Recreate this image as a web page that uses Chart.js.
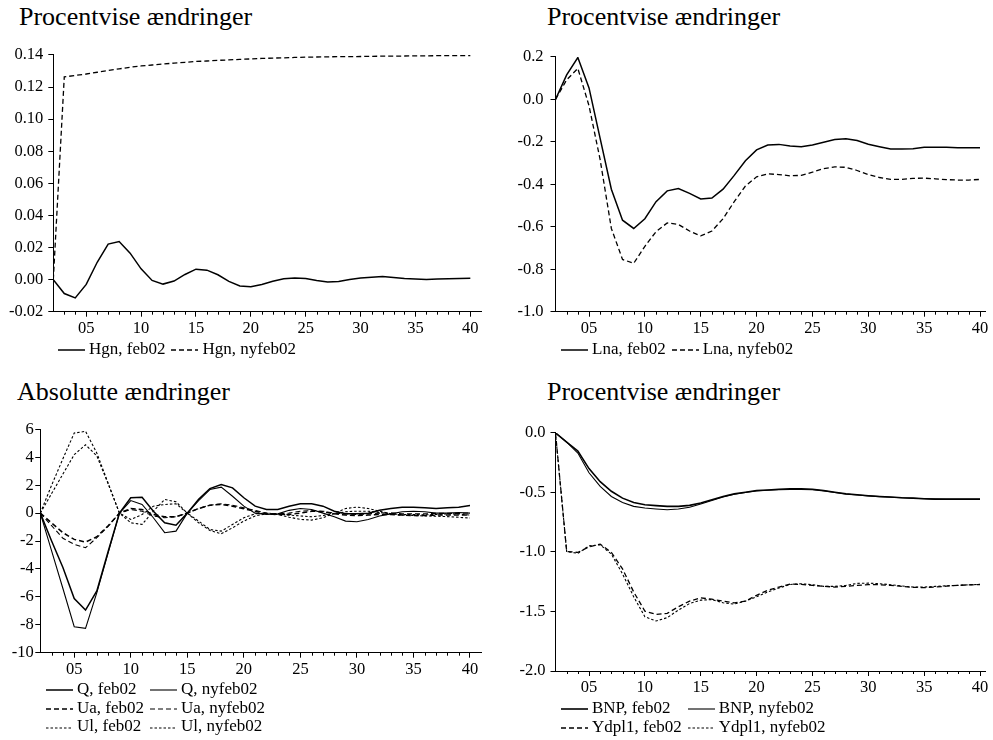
<!DOCTYPE html>
<html lang="da">
<head>
<meta charset="utf-8">
<title>Procentvise ændringer</title>
<script src="https://cdn.jsdelivr.net/npm/chart.js@4.4.1/dist/chart.umd.min.js"></script>
<style>
  body { margin: 0; background: #fff; width: 993px; height: 740px; position: relative; overflow: hidden;
         font-family: "Liberation Serif", "Times New Roman", serif; color: #000; }
  canvas { position: absolute; }
  .title { position: absolute; font-size: 26px; line-height: 26px; white-space: nowrap; }
  .legend { position: absolute; display: grid; grid-template-columns: auto auto; justify-content: start;
            column-gap: 6px; font-size: 17px; line-height: 18.7px; z-index: 2; }
  .legend-item { display: flex; align-items: center; white-space: nowrap; }
  .legend-item svg { margin-right: 4px; }
</style>
</head>
<body>
<div class="title" style="left:19px; top:4px;">Procentvise ændringer</div>
<div class="title" style="left:547px; top:4px;">Procentvise ændringer</div>
<div class="title" style="left:17px; top:379px;">Absolutte ændringer</div>
<div class="title" style="left:547px; top:379px;">Procentvise ændringer</div>

<canvas id="chart-hgn"></canvas>
<canvas id="chart-lna"></canvas>
<canvas id="chart-abs"></canvas>
<canvas id="chart-bnp"></canvas>

<div class="legend" id="legend-hgn" style="left:58px; top:340px;"></div>
<div class="legend" id="legend-lna" style="left:561px; top:340px;"></div>
<div class="legend" id="legend-abs" style="left:46px; top:680px;"></div>
<div class="legend" id="legend-bnp" style="left:561px; top:699px;"></div>

<script>
'use strict';

// ******** DATA **************
let years = [2002, 2003, 2004, 2005, 2006, 2007, 2008, 2009, 2010, 2011,
  2012, 2013, 2014, 2015, 2016, 2017, 2018, 2019, 2020, 2021,
  2022, 2023, 2024, 2025, 2026, 2027, 2028, 2029, 2030, 2031,
  2032, 2033, 2034, 2035, 2036, 2037, 2038, 2039, 2040];
let tickYears = [2005, 2010, 2015, 2020, 2025, 2030, 2035, 2040];

// top left: Hgn
let hgnTicks = [-0.02, 0.00, 0.02, 0.04, 0.06, 0.08, 0.10, 0.12, 0.14];
let hgnFeb02 = [0.0000, -0.0087, -0.0114, -0.0030, 0.0108, 0.0221, 0.0237, 0.0165, 0.0067, -0.0005,
  -0.0028, -0.0009, 0.0032, 0.0065, 0.0059, 0.0030, -0.0011, -0.0040, -0.0044, -0.0030,
  -0.0010, 0.0005, 0.0010, 0.0007, -0.0005, -0.0015, -0.0012, 0.0000, 0.0010, 0.0015,
  0.0019, 0.0013, 0.0007, 0.0003, 0.0000, 0.0003, 0.0005, 0.0007, 0.0009];
let hgnNyfeb02 = [0.0000, 0.1263, 0.1272, 0.1281, 0.1292, 0.1303, 0.1313, 0.1323, 0.1331, 0.1337,
  0.1343, 0.1349, 0.1354, 0.1359, 0.1362, 0.1366, 0.1369, 0.1372, 0.1375, 0.1378,
  0.1380, 0.1382, 0.1384, 0.1386, 0.1387, 0.1388, 0.1389, 0.1389, 0.1390, 0.1391,
  0.1392, 0.1392, 0.1393, 0.1394, 0.1394, 0.1395, 0.1395, 0.1396, 0.1396];

// top right: Lna
let lnaTicks = [-1.0, -0.8, -0.6, -0.4, -0.2, 0.0, 0.2];
let lnaFeb02 = [0.000, 0.115, 0.197, 0.054, -0.185, -0.423, -0.569, -0.608, -0.562, -0.482,
  -0.431, -0.420, -0.443, -0.469, -0.465, -0.423, -0.358, -0.289, -0.238, -0.215,
  -0.212, -0.220, -0.223, -0.215, -0.202, -0.189, -0.186, -0.194, -0.211, -0.223,
  -0.234, -0.234, -0.232, -0.226, -0.226, -0.226, -0.228, -0.228, -0.228];
let lnaNyfeb02 = [0.000, 0.092, 0.146, -0.030, -0.285, -0.608, -0.754, -0.772, -0.692, -0.623,
  -0.582, -0.589, -0.620, -0.643, -0.620, -0.562, -0.482, -0.408, -0.365, -0.351,
  -0.354, -0.360, -0.358, -0.343, -0.326, -0.318, -0.320, -0.335, -0.354, -0.368,
  -0.377, -0.377, -0.372, -0.371, -0.374, -0.378, -0.380, -0.380, -0.377];

// bottom left: Q, Ua, Ul
let absTicks = [-10, -8, -6, -4, -2, 0, 2, 4, 6];
let qFeb02 = [0, -2.00, -3.90, -6.12, -6.95, -5.57, -2.75, 0, 1.10, 1.14,
  0.14, -0.69, -0.86, 0, 1.00, 1.76, 2.05, 1.81, 1.10, 0.50,
  0.26, 0.26, 0.50, 0.67, 0.67, 0.50, 0.14, -0.05, -0.05, 0.00,
  0.20, 0.33, 0.43, 0.43, 0.38, 0.33, 0.38, 0.43, 0.55];
let qNyfeb02 = [0, -2.70, -5.40, -8.14, -8.26, -5.70, -2.85, 0, 0.90, 0.62,
  -0.33, -1.40, -1.29, 0, 0.90, 1.69, 1.86, 1.21, 0.50, 0.00,
  -0.10, -0.05, 0.20, 0.33, 0.26, 0.00, -0.26, -0.57, -0.62, -0.45,
  -0.20, -0.05, 0.10, 0.14, 0.10, 0.00, 0.00, 0.05, 0.00];
let uaFeb02 = [0, -0.70, -1.40, -1.88, -2.07, -1.69, -0.90, 0, 0.33, 0.26,
  -0.10, -0.26, -0.26, 0, 0.33, 0.57, 0.62, 0.50, 0.31, 0.14,
  -0.05, -0.10, -0.10, 0.00, 0.14, 0.10, -0.05, -0.14, -0.17, -0.14,
  -0.10, -0.10, -0.14, -0.17, -0.17, -0.14, -0.14, -0.14, -0.14];
let uaNyfeb02 = [0, -0.90, -1.80, -2.24, -2.48, -1.76, -0.95, 0, 0.26, 0.14,
  -0.20, -0.33, -0.26, 0, 0.33, 0.57, 0.67, 0.57, 0.38, 0.19,
  0.00, -0.05, 0.00, 0.14, 0.19, 0.14, 0.00, -0.05, -0.10, -0.05,
  0.00, 0.02, -0.05, -0.05, -0.05, -0.02, -0.02, -0.02, 0.02];
let ulFeb02 = [0, 1.40, 2.80, 4.19, 4.90, 4.10, 2.10, 0, -0.45, -0.10,
  0.50, 0.62, 0.67, 0, -0.57, -1.17, -1.29, -0.81, -0.33, -0.05,
  0.00, -0.05, -0.14, -0.20, -0.26, -0.17, -0.05, 0.10, 0.14, 0.14,
  0.05, -0.05, -0.10, -0.10, -0.12, -0.10, -0.05, -0.05, -0.14];
let ulNyfeb02 = [0, 2.00, 3.90, 5.74, 5.86, 4.30, 2.15, 0, -0.69, -0.81,
  0.14, 0.98, 0.81, 0, -0.69, -1.24, -1.48, -1.05, -0.57, -0.20,
  -0.05, -0.10, -0.29, -0.45, -0.50, -0.33, 0.00, 0.33, 0.43, 0.33,
  0.14, -0.05, -0.14, -0.17, -0.20, -0.22, -0.25, -0.30, -0.35];

// bottom right: BNP, Ydpl1
let bnpTicks = [-2.0, -1.5, -1.0, -0.5, 0.0];
let bnpFeb02 = [0, -0.077, -0.152, -0.300, -0.410, -0.490, -0.548, -0.584, -0.603, -0.611,
  -0.617, -0.617, -0.609, -0.589, -0.562, -0.534, -0.512, -0.498, -0.484, -0.479,
  -0.473, -0.470, -0.470, -0.473, -0.484, -0.498, -0.512, -0.520, -0.528, -0.534,
  -0.539, -0.545, -0.548, -0.553, -0.556, -0.556, -0.556, -0.556, -0.556];
let bnpNyfeb02 = [0, -0.077, -0.169, -0.335, -0.450, -0.534, -0.584, -0.617, -0.631, -0.639,
  -0.645, -0.639, -0.625, -0.598, -0.567, -0.538, -0.515, -0.500, -0.488, -0.482,
  -0.478, -0.476, -0.476, -0.478, -0.487, -0.500, -0.513, -0.521, -0.529, -0.535,
  -0.540, -0.545, -0.549, -0.553, -0.556, -0.557, -0.557, -0.557, -0.557];
let ydplFeb02 = [0, -0.996, -1.004, -0.957, -0.935, -1.004, -1.142, -1.336, -1.497, -1.524,
  -1.516, -1.460, -1.413, -1.386, -1.397, -1.413, -1.427, -1.413, -1.364, -1.322,
  -1.295, -1.270, -1.273, -1.281, -1.289, -1.295, -1.289, -1.281, -1.275, -1.275,
  -1.281, -1.289, -1.297, -1.300, -1.295, -1.287, -1.281, -1.276, -1.275];
let ydplNyfeb02 = [0, -0.996, -1.012, -0.949, -0.940, -1.018, -1.184, -1.377, -1.544, -1.580,
  -1.552, -1.488, -1.433, -1.405, -1.400, -1.427, -1.438, -1.413, -1.377, -1.336,
  -1.303, -1.273, -1.267, -1.275, -1.289, -1.289, -1.281, -1.264, -1.262, -1.267,
  -1.275, -1.286, -1.295, -1.295, -1.289, -1.284, -1.281, -1.276, -1.272];

// ******** SERIES (label + line style) **************
let longDash = [5, 3];
let shortDash = [2.5, 2];

let hgnSeries = [
  { label: 'Hgn, feb02', values: hgnFeb02, dash: [], width: 1.5 },
  { label: 'Hgn, nyfeb02', values: hgnNyfeb02, dash: longDash, width: 1.3 }
];
let lnaSeries = [
  { label: 'Lna, feb02', values: lnaFeb02, dash: [], width: 1.5 },
  { label: 'Lna, nyfeb02', values: lnaNyfeb02, dash: longDash, width: 1.3 }
];
let absSeries = [
  { label: 'Q, feb02', values: qFeb02, dash: [], width: 1.5 },
  { label: 'Q, nyfeb02', values: qNyfeb02, dash: [], width: 1.1 },
  { label: 'Ua, feb02', values: uaFeb02, dash: longDash, width: 1.5 },
  { label: 'Ua, nyfeb02', values: uaNyfeb02, dash: longDash, width: 1.1 },
  { label: 'Ul, feb02', values: ulFeb02, dash: shortDash, width: 1.1 },
  { label: 'Ul, nyfeb02', values: ulNyfeb02, dash: shortDash, width: 1.1 }
];
let bnpSeries = [
  { label: 'BNP, feb02', values: bnpFeb02, dash: [], width: 1.6 },
  { label: 'BNP, nyfeb02', values: bnpNyfeb02, dash: [], width: 1.1 },
  { label: 'Ydpl1, feb02', values: ydplFeb02, dash: longDash, width: 1.3 },
  { label: 'Ydpl1, nyfeb02', values: ydplNyfeb02, dash: shortDash, width: 1.1 }
];

// ******** CHART DEFAULTS **************
Chart.defaults.font.family = '"Liberation Serif", "Times New Roman", serif';
Chart.defaults.font.size = 16.5;
Chart.defaults.color = '#000';

// short ticks for every year on the x axis
const minorTicks = {
  id: 'minorTicks',
  afterDraw(chart) {
    let xScale = chart.scales.x;
    let ctx = chart.ctx;
    let bottom = chart.chartArea.bottom;
    ctx.save();
    ctx.strokeStyle = '#000';
    ctx.lineWidth = 1;
    ctx.beginPath();
    for (let i = 1; i < years.length; i++) {
      if (tickYears.includes(years[i])) continue;
      let px = Math.round(xScale.getPixelForValue(years[i])) + 0.5;
      ctx.moveTo(px, bottom);
      ctx.lineTo(px, bottom + 3);
    }
    ctx.stroke();
    ctx.restore();
  }
};

// box = canvas on the page, area = wanted plot area on the page
function makeChart(canvasId, box, area, xMax, yTicks, decimals, yPad, series) {
  let canvas = document.getElementById(canvasId);
  canvas.width = box.w;
  canvas.height = box.h;
  canvas.style.left = box.x + 'px';
  canvas.style.top = box.y + 'px';

  let datasets = series.map(s => ({
    label: s.label,
    data: s.values,
    borderColor: '#000',
    borderWidth: s.width,
    borderDash: s.dash,
    pointRadius: 0,
    tension: 0,
    fill: false
  }));

  new Chart(canvas, {
    type: 'line',
    data: { labels: years, datasets: datasets },
    options: {
      responsive: false,
      animation: false,
      layout: {
        padding: { left: 0, top: area.t - box.y, right: box.x + box.w - area.r, bottom: 0 }
      },
      plugins: { legend: { display: false }, tooltip: { enabled: false } },
      scales: {
        x: {
          type: 'linear',
          min: years[0],
          max: xMax,
          afterBuildTicks: scale => { scale.ticks = tickYears.map(v => ({ value: v })); },
          afterFit: scale => { scale.height = box.y + box.h - area.b; },
          grid: { drawOnChartArea: false, drawTicks: true, tickLength: 5, color: '#000' },
          border: { display: true, color: '#000', width: 1 },
          ticks: {
            autoSkip: false,
            maxRotation: 0,
            padding: 2,
            callback: v => String(v % 100).padStart(2, '0')
          }
        },
        y: {
          min: yTicks[0],
          max: yTicks[yTicks.length - 1],
          afterBuildTicks: scale => { scale.ticks = yTicks.map(v => ({ value: v })); },
          afterFit: scale => { scale.width = area.l - box.x; },
          grid: { drawOnChartArea: false, drawTicks: true, tickLength: 5, color: '#000' },
          border: { display: true, color: '#000', width: 1 },
          ticks: {
            padding: yPad,
            callback: v => Number(v).toFixed(decimals)
          }
        }
      }
    },
    plugins: [minorTicks]
  });
}

function makeLegend(legendId, series) {
  let legend = document.getElementById(legendId);
  for (let i = 0; i < series.length; i++) {
    let s = series[i];
    let item = document.createElement('div');
    item.className = 'legend-item';
    let dash = s.dash.length ? ` stroke-dasharray="${s.dash.join(' ')}"` : '';
    item.innerHTML = `<svg width="27" height="10"><line x1="0" y1="6" x2="27" y2="6" stroke="#000" stroke-width="${s.width}"${dash}/></svg>`;
    item.appendChild(document.createTextNode(s.label));
    legend.appendChild(item);
  }
}

// ********* CHARTS ******************
makeChart('chart-hgn', { x: 0, y: 40, w: 493, h: 300 }, { l: 53.3, t: 51.7, r: 481.3, b: 311.7 },
  2041, hgnTicks, 2, 5, hgnSeries);
makeChart('chart-lna', { x: 495, y: 40, w: 498, h: 300 }, { l: 555.5, t: 51.7, r: 985.6, b: 311.7 },
  2040.5, lnaTicks, 1, 7, lnaSeries);
makeChart('chart-abs', { x: 0, y: 418, w: 493, h: 262 }, { l: 40.3, t: 429.3, r: 481.3, b: 652.7 },
  2041, absTicks, 0, 1.5, absSeries);
makeChart('chart-bnp', { x: 495, y: 418, w: 498, h: 282 }, { l: 555.5, t: 429, r: 985.6, b: 671 },
  2040.5, bnpTicks, 1, 5, bnpSeries);

makeLegend('legend-hgn', hgnSeries);
makeLegend('legend-lna', lnaSeries);
makeLegend('legend-abs', absSeries);
makeLegend('legend-bnp', bnpSeries);
</script>
</body>
</html>
